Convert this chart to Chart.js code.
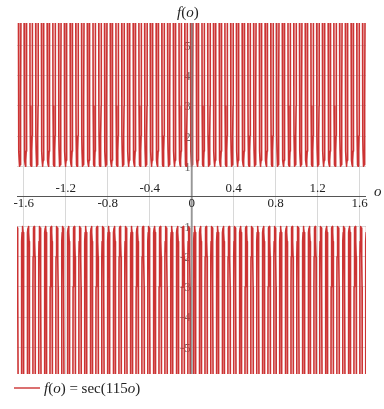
<!DOCTYPE html>
<html>
<head>
<meta charset="utf-8">
<script src="https://cdn.jsdelivr.net/npm/chart.js@4"></script>
<style>
body { margin: 0; background: #fff; }
#wrap { width: 384px; height: 409px; }
</style>
</head>
<body>
<div id="wrap"><canvas id="chart" width="384" height="409"></canvas></div>
<script>
// vertices of the branches: sec = +1 (upper) and sec = -1 (lower)
const upperVertexX = [
  -1.6391, -1.5845, -1.5298, -1.4752, -1.4205, -1.3659, -1.3113, -1.2566, -1.2020, -1.1474,
  -1.0927, -1.0381, -0.9835, -0.9288, -0.8742, -0.8195, -0.7649, -0.7103, -0.6556, -0.6010,
  -0.5464, -0.4917, -0.4371, -0.3825, -0.3278, -0.2732, -0.2185, -0.1639, -0.1093, -0.0546,
  0,
  0.0546, 0.1093, 0.1639, 0.2185, 0.2732, 0.3278, 0.3825, 0.4371, 0.4917, 0.5464,
  0.6010, 0.6556, 0.7103, 0.7649, 0.8195, 0.8742, 0.9288, 0.9835, 1.0381, 1.0927,
  1.1474, 1.2020, 1.2566, 1.3113, 1.3659, 1.4205, 1.4752, 1.5298, 1.5845, 1.6391
];
const lowerVertexX = [
  -1.6664, -1.6118, -1.5571, -1.5025, -1.4479, -1.3932, -1.3386, -1.2840, -1.2293, -1.1747,
  -1.1200, -1.0654, -1.0108, -0.9561, -0.9015, -0.8469, -0.7922, -0.7376, -0.6830, -0.6283,
  -0.5737, -0.5190, -0.4644, -0.4098, -0.3551, -0.3005, -0.2459, -0.1912, -0.1366, -0.0820,
  -0.0273,
  0.0273, 0.0820, 0.1366, 0.1912, 0.2459, 0.3005, 0.3551, 0.4098, 0.4644, 0.5190,
  0.5737, 0.6283, 0.6830, 0.7376, 0.7922, 0.8469, 0.9015, 0.9561, 1.0108, 1.0654,
  1.1200, 1.1747, 1.2293, 1.2840, 1.3386, 1.3932, 1.4479, 1.5025, 1.5571, 1.6118, 1.6664
];
// shape of one branch: |f| level and half width at that level
const profileY = [6.5, 3, 2, 1.5, 1.2, 1.05, 1];
const profileDx = [0.01232, 0.01070, 0.00911, 0.00731, 0.00509, 0.00269, 0];

const xTicks = [-1.6, -1.2, -0.8, -0.4, 0, 0.4, 0.8, 1.2, 1.6];
const xTickLabels = ["-1.6", "-1.2", "-0.8", "-0.4", "0", "0.4", "0.8", "1.2", "1.6"];
const yTicks = [-5, -4, -3, -2, -1, 1, 2, 3, 4, 5];
const yTickLabels = ["-5", "-4", "-3", "-2", "-1", "1", "2", "3", "4", "5"];

const lineColor = "#cc3333";
const serif = "'Liberation Serif', 'DejaVu Serif', serif";

function branchPoints(centres, sign) {
  const pts = [];
  centres.forEach(function(c) {
    for (let i = 0; i < profileY.length; i++) {
      pts.push({x: c - profileDx[i], y: sign * profileY[i]});
    }
    for (let i = profileY.length - 2; i >= 0; i--) {
      pts.push({x: c + profileDx[i], y: sign * profileY[i]});
    }
    pts.push({x: c, y: null});
  });
  return pts;
}

function drawParts(ctx, parts, x, y) {
  parts.forEach(function(p) {
    ctx.font = (p[1] ? "italic " : "") + "15px " + serif;
    ctx.fillText(p[0], x, y);
    x += ctx.measureText(p[0]).width;
  });
}

const overlay = {
  id: "overlay",
  beforeDatasetsDraw(chart) {
    const ctx = chart.ctx;
    const xs = chart.scales.x, ys = chart.scales.y;
    const x0 = xs.getPixelForValue(0);
    ctx.save();
    ctx.font = "13px " + serif;
    ctx.fillStyle = "#666";
    ctx.textAlign = "right";
    ctx.textBaseline = "middle";
    yTicks.forEach(function(v, i) {
      ctx.fillText(yTickLabels[i], x0 - 1, ys.getPixelForValue(v) + 1);
    });
    ctx.restore();
  },
  afterDatasetsDraw(chart) {
    const ctx = chart.ctx;
    const area = chart.chartArea;
    const xs = chart.scales.x, ys = chart.scales.y;
    const x0 = xs.getPixelForValue(0);
    const y0 = ys.getPixelForValue(0);
    ctx.save();
    // axes
    ctx.strokeStyle = "rgba(130,130,130,0.75)";
    ctx.lineWidth = 2;
    ctx.beginPath();
    ctx.moveTo(x0, area.top);
    ctx.lineTo(x0, area.bottom);
    ctx.stroke();
    ctx.strokeStyle = "#555";
    ctx.lineWidth = 1;
    ctx.beginPath();
    ctx.moveTo(area.left, Math.round(y0) + 0.5);
    ctx.lineTo(area.right, Math.round(y0) + 0.5);
    ctx.stroke();
    // x tick labels, alternating below / above the axis
    ctx.font = "13px " + serif;
    ctx.fillStyle = "#222";
    ctx.textAlign = "center";
    xTicks.forEach(function(v, i) {
      const px = xs.getPixelForValue(v);
      if (i % 2 === 0) {
        ctx.textBaseline = "top";
        ctx.fillText(xTickLabels[i], px, y0 + 1);
      } else {
        ctx.textBaseline = "bottom";
        ctx.fillText(xTickLabels[i], px, y0 - 1);
      }
    });
    // axis titles
    ctx.fillStyle = "#222";
    ctx.textAlign = "left";
    ctx.textBaseline = "middle";
    drawParts(ctx, [["f", true], ["(", false], ["o", true], [")", false]], 177, 13);
    drawParts(ctx, [["o", true]], 374, 192);
    // legend
    ctx.strokeStyle = "rgba(204,51,51,0.7)";
    ctx.lineWidth = 2;
    ctx.beginPath();
    ctx.moveTo(14, 388);
    ctx.lineTo(40, 388);
    ctx.stroke();
    drawParts(ctx, [["f", true], ["(", false], ["o", true], [")", false], [" = sec(115", false], ["o", true], [")", false]], 44, 389);
    ctx.restore();
  }
};

const lineStyle = {
  showLine: true,
  spanGaps: false,
  borderColor: lineColor,
  backgroundColor: lineColor,
  borderWidth: 1.6,
  borderJoinStyle: "round",
  pointRadius: 0,
  tension: 0,
  clip: 0
};

new Chart(document.getElementById("chart"), {
  type: "scatter",
  data: {
    datasets: [
      Object.assign({data: branchPoints(upperVertexX, 1)}, lineStyle),
      Object.assign({data: branchPoints(lowerVertexX, -1)}, lineStyle)
    ]
  },
  options: {
    responsive: false,
    animation: false,
    layout: {padding: {left: 17, right: 18, top: 23, bottom: 35}},
    plugins: {
      legend: {display: false},
      tooltip: {enabled: false}
    },
    scales: {
      x: {
        type: "linear",
        min: -1.665,
        max: 1.66,
        afterBuildTicks(scale) { scale.ticks = xTicks.map(function(v) { return {value: v}; }); },
        afterFit(scale) { scale.height = 0; },
        ticks: {display: false},
        border: {display: false},
        grid: {color: "#d8d8d8", drawTicks: false}
      },
      y: {
        type: "linear",
        min: -5.89,
        max: 5.75,
        afterBuildTicks(scale) { scale.ticks = yTicks.map(function(v) { return {value: v}; }); },
        afterFit(scale) { scale.width = 0; },
        ticks: {display: false},
        border: {display: false},
        grid: {color: "#d8d8d8", drawTicks: false}
      }
    }
  },
  plugins: [overlay]
});
</script>
</body>
</html>
